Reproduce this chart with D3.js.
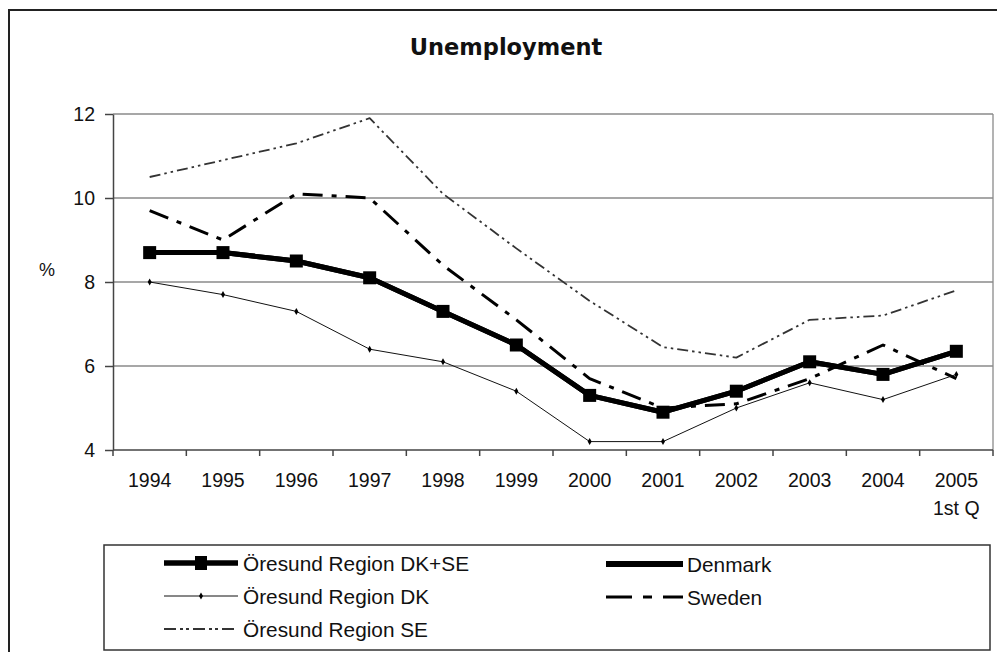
<!DOCTYPE html>
<html>
<head>
<meta charset="utf-8">
<script src="https://cdn.jsdelivr.net/npm/d3@7/dist/d3.min.js"></script>
<style>
  html, body { margin: 0; padding: 0; background: #fff; }
  svg { display: block; }
  text { font-family: "Liberation Sans", Arial, sans-serif; fill: #111; }
</style>
</head>
<body>
<svg id="chart" width="997" height="652"></svg>
<script>
// ---- data ----
const categories = ["1994","1995","1996","1997","1998","1999","2000","2001","2002","2003","2004","2005"];
const categorySubLabels = ["","","","","","","","","","","","1st Q"];
const yTicks = [4, 6, 8, 10, 12];
const oresundDKSE = [8.7, 8.7, 8.5, 8.1, 7.3, 6.5, 5.3, 4.9, 5.4, 6.1, 5.8, 6.35];
const denmark     = [8.7, 8.7, 8.5, 8.1, 7.3, 6.5, 5.3, 4.9, 5.4, 6.1, 5.8, 6.35];
const oresundDK   = [8.0, 7.7, 7.3, 6.4, 6.1, 5.4, 4.2, 4.2, 5.0, 5.6, 5.2, 5.8];
const sweden      = [9.7, 9.0, 10.1, 10.0, 8.4, 7.1, 5.7, 5.0, 5.1, 5.7, 6.5, 5.7];
const oresundSE   = [10.5, 10.9, 11.3, 11.9, 10.1, 8.8, 7.55, 6.45, 6.2, 7.1, 7.2, 7.8];
const seriesNames = ["Öresund Region DK+SE", "Öresund Region DK", "Öresund Region SE", "Denmark", "Sweden"];
const titleText = "Unemployment";
const yAxisLabel = "%";

// ---- styles ----
const styles = {
  "Öresund Region DK+SE": { width: 5, dash: null, marker: "square", color: "#000" },
  "Öresund Region DK":    { width: 1, dash: null, marker: "diamond", color: "#111" },
  "Öresund Region SE":    { width: 1.8, dash: "11,4,2.5,4,2.5,4", marker: null, color: "#333" },
  "Denmark":              { width: 5, dash: null, marker: null, color: "#000" },
  "Sweden":               { width: 3, dash: "20,9,5,9", marker: null, color: "#000" }
};
const seriesValues = {
  "Öresund Region DK+SE": oresundDKSE,
  "Öresund Region DK": oresundDK,
  "Öresund Region SE": oresundSE,
  "Denmark": denmark,
  "Sweden": sweden
};

const svg = d3.select("#chart");
const pLeft = 113, pRight = 993, pTop = 114, pBottom = 450;

const x = d3.scaleBand().domain(categories).range([pLeft, pRight]).padding(0);
const y = d3.scaleLinear().domain([4, 12]).range([pBottom, pTop]);
const cx = c => x(c) + x.bandwidth() / 2;

// outer frame (left & top visible)
svg.append("path").attr("d", `M9,660 L9,10 L1005,10`)
  .attr("fill", "none").attr("stroke", "#222").attr("stroke-width", 2);

// title
svg.append("text").attr("x", 506).attr("y", 55).attr("text-anchor", "middle")
  .style("font-family", "'DejaVu Sans', Verdana, sans-serif")
  .style("font-weight", "bold").style("font-size", "22.5px").text(titleText);

// gridlines
svg.append("g").selectAll("line").data(yTicks.filter(t => t > 4)).join("line")
  .attr("x1", pLeft).attr("x2", pRight).attr("y1", d => y(d)).attr("y2", d => y(d))
  .attr("stroke", "#8a8a8a").attr("stroke-width", 1.3);
// right border
svg.append("line").attr("x1", pRight).attr("x2", pRight).attr("y1", pTop).attr("y2", pBottom)
  .attr("stroke", "#8a8a8a").attr("stroke-width", 1.3);

// y axis
const yAxis = d3.axisLeft(y).tickValues(yTicks).tickSize(8).tickPadding(10).tickSizeOuter(0);
const gy = svg.append("g").attr("transform", `translate(${pLeft},0)`).call(yAxis);
gy.select(".domain").attr("stroke", "#444").attr("stroke-width", 1.5);
gy.selectAll(".tick line").attr("stroke", "#444").attr("stroke-width", 1.5);
gy.selectAll(".tick text").style("font-size", "19.5px").style("font-family", "'Liberation Sans', Arial, sans-serif").attr("fill", "#111");

svg.append("text").attr("x", 47).attr("y", 276).attr("text-anchor", "middle")
  .style("font-size", "18px").text(yAxisLabel);

// x axis
svg.append("line").attr("x1", pLeft).attr("x2", pRight).attr("y1", pBottom).attr("y2", pBottom)
  .attr("stroke", "#444").attr("stroke-width", 1.5);
const boundaries = categories.map(c => x(c)).concat([x(categories[categories.length - 1]) + x.bandwidth()]);
svg.append("g").selectAll("line").data(boundaries).join("line")
  .attr("x1", d => d).attr("x2", d => d).attr("y1", pBottom).attr("y2", pBottom + 6)
  .attr("stroke", "#444").attr("stroke-width", 1.5);
svg.append("g").selectAll("text").data(categories).join("text")
  .attr("x", d => cx(d)).attr("y", 487).attr("text-anchor", "middle")
  .style("font-size", "19.5px").text(d => d);
svg.append("g").selectAll("text").data(categories).join("text")
  .attr("x", d => cx(d)).attr("y", 515).attr("text-anchor", "middle")
  .style("font-size", "19.5px").text((d, i) => categorySubLabels[i]);

// lines
const line = d3.line().x((d, i) => cx(categories[i])).y(d => y(d));
const drawOrder = ["Denmark", "Öresund Region SE", "Sweden", "Öresund Region DK", "Öresund Region DK+SE"];
drawOrder.forEach(name => {
  const s = styles[name];
  const vals = seriesValues[name];
  svg.append("path").datum(vals).attr("d", line)
    .attr("fill", "none").attr("stroke", s.color).attr("stroke-width", s.width)
    .attr("stroke-dasharray", s.dash).attr("stroke-linejoin", "round");
  if (s.marker === "square") {
    svg.append("g").selectAll("rect").data(vals).join("rect")
      .attr("x", (d, i) => cx(categories[i]) - 6.5).attr("y", d => y(d) - 6.5)
      .attr("width", 13).attr("height", 13).attr("fill", "#000");
  } else if (s.marker === "diamond") {
    svg.append("g").selectAll("path").data(vals).join("path")
      .attr("d", d3.symbol(d3.symbolDiamond, 14))
      .attr("transform", (d, i) => `translate(${cx(categories[i])},${y(d)})`).attr("fill", "#000");
  }
});

// legend
const lg = svg.append("g");
lg.append("rect").attr("x", 104).attr("y", 545).attr("width", 886).attr("height", 105)
  .attr("fill", "#fff").attr("stroke", "#333").attr("stroke-width", 1.5);
const legendItems = [
  { name: "Öresund Region DK+SE", x1: 164, x2: 238, tx: 243, ty: 563 },
  { name: "Öresund Region DK",    x1: 164, x2: 238, tx: 243, ty: 596 },
  { name: "Öresund Region SE",    x1: 164, x2: 238, tx: 243, ty: 629 },
  { name: "Denmark",              x1: 606, x2: 683, tx: 687, ty: 564 },
  { name: "Sweden",               x1: 606, x2: 683, tx: 687, ty: 597 }
];
legendItems.forEach(it => {
  const s = styles[it.name];
  lg.append("line").attr("x1", it.x1).attr("x2", it.x2).attr("y1", it.ty).attr("y2", it.ty)
    .attr("stroke", s.color).attr("stroke-width", it.name === "Denmark" ? 6 : (it.name === "Öresund Region DK+SE" ? 5.5 : s.width))
    .attr("stroke-dasharray", it.name === "Sweden" ? "26,11,9,11" : (it.name === "Öresund Region SE" ? "12,4,3,3,3,4" : null));
  const mx = (it.x1 + it.x2) / 2;
  if (s.marker === "square") {
    lg.append("rect").attr("x", mx - 6).attr("y", it.ty - 7).attr("width", 12).attr("height", 14).attr("fill", "#000");
  } else if (s.marker === "diamond") {
    lg.append("path").attr("d", d3.symbol(d3.symbolDiamond, 14)).attr("transform", `translate(${mx},${it.ty})`).attr("fill", "#000");
  }
  lg.append("text").attr("x", it.tx).attr("y", it.ty + 7.5).style("font-size", "20.8px").text(it.name);
});
</script>
</body>
</html>
